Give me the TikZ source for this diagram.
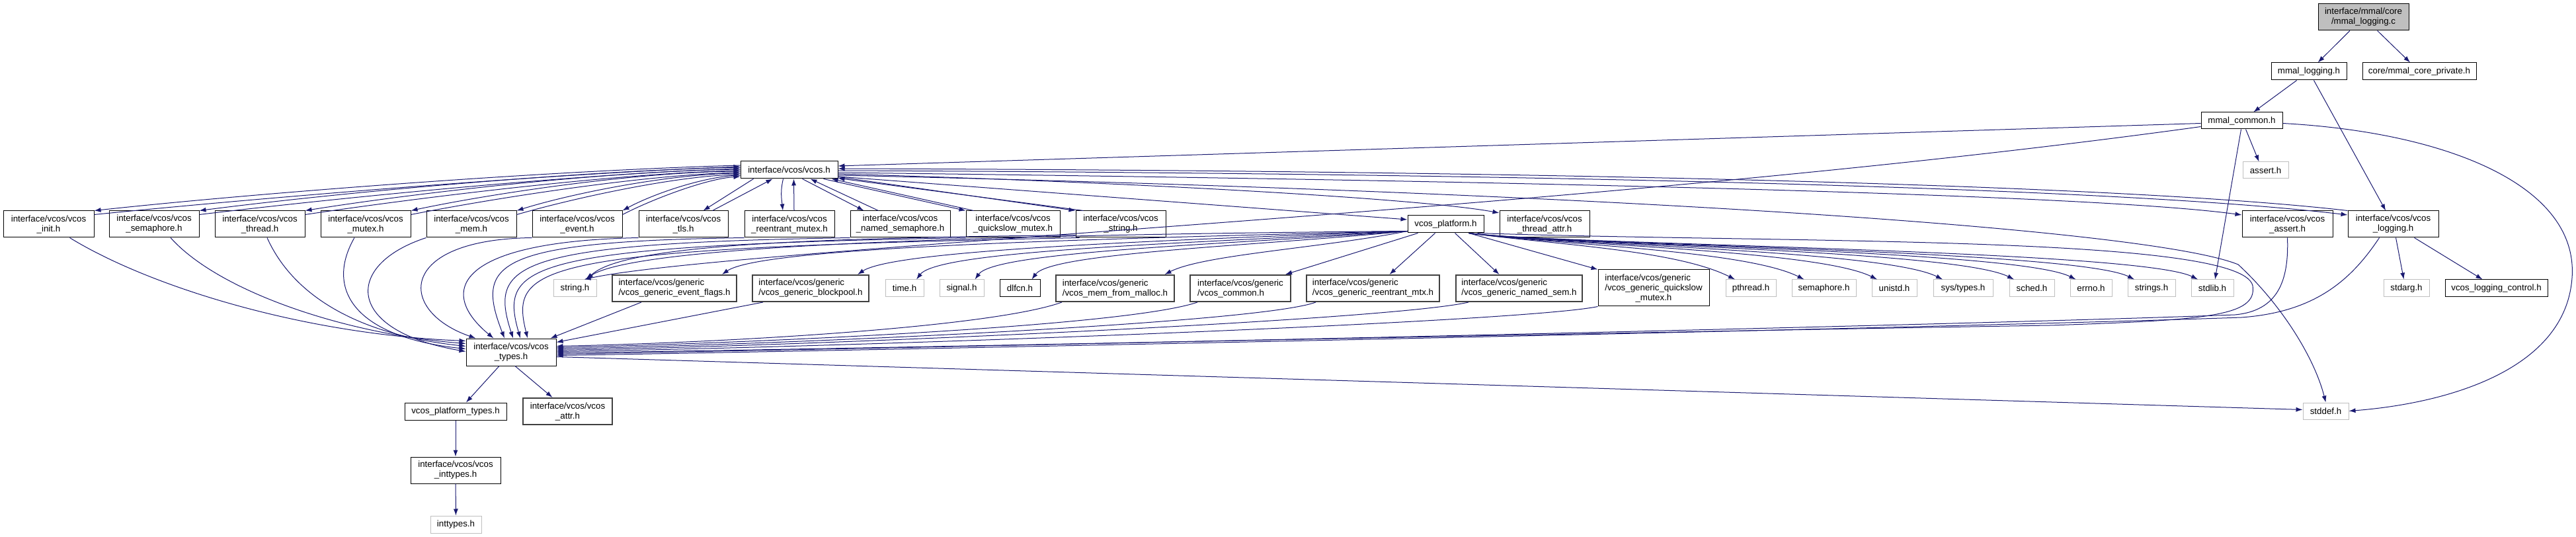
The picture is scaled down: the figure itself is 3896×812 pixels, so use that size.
\documentclass[tikz,border=0pt]{standalone}
\usepackage{fontspec}
\setmainfont{Liberation Sans}
\usetikzlibrary{arrows.meta,calc}
\definecolor{edgecol}{HTML}{191970}
\definecolor{sysgray}{HTML}{BFBFBF}
\definecolor{gengray}{HTML}{404040}
\definecolor{rootfill}{HTML}{BFBFBF}
\newcommand{\fnode}[7]{\node[#1, minimum width={(#4-#3)*0.75pt}, minimum height={(#6-#5)*0.75pt}] (#2) at ({(#3+#4)/2},{(#5+#6)/2}) {#7};}
\begin{document}
\begin{tikzpicture}[x=0.75pt,y=-0.75pt,
 nbox/.style={draw=black, fill=white, line width=0.75pt, inner sep=0pt, align=center, font=\fontsize{10pt}{11.25pt}\selectfont},
 sbox/.style={nbox, draw=sysgray},
 gbox/.style={nbox, draw=gengray, line width=1.5pt, align=left},
 rbox/.style={nbox, fill=rootfill},
 dep/.style={draw=edgecol, line width=0.75pt, -{Latex[length=7.5pt,width=5.25pt]}}]
\useasboundingbox (0,0) rectangle (3896,812);
% ---------- nodes ----------
\fnode{rbox}{mlc}{3506}{3643}{6}{46}{interface/mmal/core\\/mmal\_logging.c}
\fnode{nbox}{mlh}{3435}{3549}{95}{121}{mmal\_logging.h}
\fnode{nbox}{mcp}{3573}{3745}{95}{121}{core/mmal\_core\_private.h}
\fnode{nbox}{mch}{3329}{3452}{170}{195}{mmal\_common.h}
\fnode{sbox}{asrt}{3392}{3461}{245}{270}{assert.h}
\fnode{nbox}{vcos}{1120}{1267}{244}{270}{interface/vcos/vcos.h}
% row 1
\fnode{nbox}{init}{5}{142}{319}{359}{interface/vcos/vcos\\\_init.h}
\fnode{nbox}{sema}{165}{301}{319}{359}{interface/vcos/vcos\\\_semaphore.h}
\fnode{nbox}{thrd}{325}{461}{319}{359}{interface/vcos/vcos\\\_thread.h}
\fnode{nbox}{mutx}{485}{621}{319}{359}{interface/vcos/vcos\\\_mutex.h}
\fnode{nbox}{mem}{645}{781}{319}{359}{interface/vcos/vcos\\\_mem.h}
\fnode{nbox}{evt}{805}{941}{319}{359}{interface/vcos/vcos\\\_event.h}
\fnode{nbox}{tls}{966}{1101}{319}{359}{interface/vcos/vcos\\\_tls.h}
\fnode{nbox}{rmtx}{1126}{1262}{319}{359}{interface/vcos/vcos\\\_reentrant\_mutex.h}
\fnode{nbox}{nsem}{1286}{1437}{319}{359}{interface/vcos/vcos\\\_named\_semaphore.h}
\fnode{nbox}{qsm}{1461}{1603}{319}{359}{interface/vcos/vcos\\\_quickslow\_mutex.h}
\fnode{nbox}{vstr}{1627}{1763}{319}{359}{interface/vcos/vcos\\\_string.h}
\fnode{nbox}{plat}{2129}{2244}{326}{352}{vcos\_platform.h}
\fnode{nbox}{tattr}{2268}{2404}{319}{359}{interface/vcos/vcos\\\_thread\_attr.h}
\fnode{nbox}{vasrt}{3391}{3528}{319}{359}{interface/vcos/vcos\\\_assert.h}
\fnode{nbox}{vlog}{3551}{3688}{319}{359}{interface/vcos/vcos\\\_logging.h}
% row 2
\fnode{sbox}{strh}{837}{902}{423}{449}{string.h}
\fnode{gbox}{gevf}{926}{1114}{416}{456}{interface/vcos/generic\\/vcos\_generic\_event\_flags.h}
\fnode{gbox}{gblk}{1138}{1314}{416}{456}{interface/vcos/generic\\/vcos\_generic\_blockpool.h}
\fnode{sbox}{timeh}{1339}{1397}{423}{449}{time.h}
\fnode{sbox}{sigh}{1421}{1488}{423}{449}{signal.h}
\fnode{nbox}{dlfcn}{1512}{1573}{423}{449}{dlfcn.h}
\fnode{gbox}{gmm}{1597}{1776}{416}{456}{interface/vcos/generic\\/vcos\_mem\_from\_malloc.h}
\fnode{gbox}{gcom}{1800}{1952}{416}{456}{interface/vcos/generic\\/vcos\_common.h}
\fnode{gbox}{grm}{1976}{2177}{416}{456}{interface/vcos/generic\\/vcos\_generic\_reentrant\_mtx.h}
\fnode{gbox}{gns}{2202}{2393}{416}{456}{interface/vcos/generic\\/vcos\_generic\_named\_sem.h}
\fnode{nbox, align=left}{gqs}{2417}{2585}{408}{463}{interface/vcos/generic\\/vcos\_generic\_quickslow\\\hspace*{34.7pt}\_mutex.h}
\fnode{sbox}{pthr}{2610}{2686}{423}{449}{pthread.h}
\fnode{sbox}{semh}{2710}{2807}{423}{449}{semaphore.h}
\fnode{sbox}{unih}{2831}{2899}{423}{449}{unistd.h}
\fnode{sbox}{syst}{2924}{3014}{423}{449}{sys/types.h}
\fnode{sbox}{schd}{3039}{3107}{423}{449}{sched.h}
\fnode{sbox}{errn}{3131}{3194}{423}{449}{errno.h}
\fnode{sbox}{strs}{3218}{3290}{423}{449}{strings.h}
\fnode{sbox}{stdl}{3314}{3378}{423}{449}{stdlib.h}
\fnode{sbox}{stdarg}{3605}{3674}{423}{449}{stdarg.h}
\fnode{nbox}{vlc}{3698}{3853}{423}{449}{vcos\_logging\_control.h}
% lower rows
\fnode{nbox}{types}{705}{841}{512}{553}{interface/vcos/vcos\\\_types.h}
\fnode{nbox}{ptyp}{612}{766}{609}{635}{vcos\_platform\_types.h}
\fnode{gbox, align=center}{attr}{791}{926}{602}{642}{interface/vcos/vcos\\\_attr.h}
\fnode{sbox}{stddef}{3483}{3552}{609}{634}{stddef.h}
\fnode{nbox}{intt}{621}{757}{691}{731}{interface/vcos/vcos\\\_inttypes.h}
\fnode{sbox}{inttypes}{651}{728}{780}{806}{inttypes.h}
% ---------- edges: top ----------
\draw[dep] (mlc) -- (mlh);
\draw[dep] (mlc) -- (mcp);
\draw[dep] (mlh) -- (mch);
\draw[dep] (mlh) -- (vlog);
\draw[dep] ($(mch.west)+(0,4)$) -- ($(vcos.east)+(0,-6)$);
\draw[dep] ($(mch.west)+(0,9)$) .. controls (2400,320) and (1100,375) .. ($(strh.north)+(14,0)$);
\draw[dep] ($(mch.south)+(6,0)$) -- ($(asrt.north)+(-10,0)$);
\draw[dep] ($(mch.south)+(-1,0)$) -- ($(stdl.north)+(4,0)$);
\draw[dep] ($(mch.east)+(0,4)$) .. controls (3700,200) and (3900,280) .. (3890,420) .. controls (3880,560) and (3700,610) .. (stddef.east);
% ---------- vcos <-> row 1 (left arcs) ----------
\draw[dep] ($(vcos.west)+(0,-7)$) .. controls (827,258) and (387,292) .. (init.north east);
\draw[dep] ($(init.north east)+(0,6)$) .. controls (406,298) and (846,262) .. ($(vcos.west)+(0,-5)$);
\draw[dep] ($(vcos.west)+(0,-4)$) .. controls (874,258) and (506,292) .. (sema.north east);
\draw[dep] ($(sema.north east)+(0,6)$) .. controls (522,298) and (891,262) .. ($(vcos.west)+(0,-2)$);
\draw[dep] ($(vcos.west)+(0,-1)$) .. controls (922,258) and (626,292) .. (thrd.north east);
\draw[dep] ($(thrd.north east)+(0,6)$) .. controls (639,298) and (935,262) .. ($(vcos.west)+(0,1)$);
\draw[dep] ($(vcos.west)+(0,2)$) .. controls (970,259) and (746,292) .. (mutx.north east);
\draw[dep] ($(mutx.north east)+(0,6)$) .. controls (756,298) and (980,264) .. ($(vcos.west)+(0,4)$);
\draw[dep] ($(vcos.west)+(0,5)$) .. controls (1018,262) and (866,292) .. (mem.north east);
\draw[dep] ($(mem.north east)+(0,6)$) .. controls (873,298) and (1025,266) .. ($(vcos.west)+(0,7)$);
\draw[dep] ($(vcos.west)+(0,8)$) .. controls (1066,266) and (986,294) .. (evt.north east);
\draw[dep] ($(evt.north east)+(0,6)$) .. controls (989,300) and (1070,270) .. ($(vcos.west)+(0,10)$);
% ---------- vcos <-> row 1 (below) ----------
\draw[dep] ($(vcos.south west)+(20,0)$) -- ($(tls.north)+(30,0)$);
\draw[dep] ($(tls.north)+(44,0)$) -- ($(vcos.south west)+(49,0)$);
\draw[dep] ($(vcos.south west)+(65,0)$) .. controls (1180,290) and (1182,300) .. ($(rmtx.north)+(-10,0)$);
\draw[dep] ($(rmtx.north)+(7,0)$) -- ($(vcos.south west)+(81,0)$);
\draw[dep] ($(vcos.south west)+(94,0)$) -- ($(nsem.north)+(-55,0)$);
\draw[dep] ($(nsem.north)+(-33,0)$) -- ($(vcos.south west)+(106,0)$);
\draw[dep] ($(vcos.south east)+(-22,0)$) -- (qsm.north west);
\draw[dep] ($(qsm.north west)+(12,0)$) -- ($(vcos.south east)+(-10,0)$);
\draw[dep] ($(vcos.south east)+(0,-3)$) -- (vstr.north west);
\draw[dep] ($(vstr.north west)+(12,0)$) -- ($(vcos.south east)+(0,-1)$);
% ---------- vcos -> right ----------
\draw[dep] ($(vlog.north west)$) .. controls (3200,278) and (2300,258) .. ($(vcos.east)+(0,-2)$);
\draw[dep] ($(vcos.east)+(0,1)$) .. controls (2300,262) and (3200,283) .. ($(vlog.west)+(0,-14)$);
\draw[dep] ($(vcos.east)+(0,4)$) .. controls (2200,272) and (3150,292) .. ($(vasrt.west)+(0,-14)$);
\draw[dep] ($(vcos.east)+(0,6)$) .. controls (1700,275) and (2150,300) .. ($(tattr.west)+(0,-17)$);
\draw[dep] ($(vcos.east)+(0,8)$) .. controls (2400,290) and (3250,345) .. (3385,400) .. controls (3450,460) and (3500,540) .. (stddef.north);
\draw[dep] ($(vcos.east)+(0,10)$) -- ($(plat.west)+(0,-7)$);
% ---------- row 1 -> types ----------
\draw[dep] ($(init.south)+(32,0)$) .. controls (220,430) and (450,505) .. ($(types.west)+(0,-17)$);
\draw[dep] ($(sema.south)+(25,0)$) .. controls (330,440) and (520,505) .. ($(types.west)+(0,-13)$);
\draw[dep] ($(thrd.south)+(11,0)$) .. controls (440,440) and (530,505) .. ($(types.west)+(0,-9)$);
\draw[dep] ($(mutx.south)+(-17,0)$) .. controls (490,440) and (540,510) .. ($(types.west)+(0,-5)$);
\draw[dep] (mem.south west) .. controls (520,400) and (520,500) .. ($(types.west)+(0,-1)$);
\draw[dep] (evt.south west) .. controls (600,362) and (600,470) .. ($(types.north west)+(15,0)$);
\draw[dep] (tls.south west) .. controls (690,365) and (660,440) .. ($(types.north west)+(42,0)$);
\draw[dep] (rmtx.south west) .. controls (740,365) and (720,400) .. ($(types.north)+(-10,0)$);
\draw[dep] (nsem.south west) .. controls (770,368) and (740,400) .. ($(types.north)+(3,0)$);
\draw[dep] (qsm.south west) .. controls (790,372) and (755,400) .. ($(types.north)+(14,0)$);
\draw[dep] ($(vstr.south west)+(6,0)$) .. controls (810,376) and (770,400) .. ($(types.north)+(25,0)$);
\draw[dep] ($(vstr.south west)+(0,-4)$) .. controls (1200,360) and (940,372) .. ($(strh.north)+(18,0)$);
% ---------- row 2 -> types ----------
\draw[dep] ($(gevf.south)+(-50,0)$) -- ($(types.north east)+(-9,0)$);
\draw[dep] ($(gblk.south west)+(17,0)$) -- ($(types.east)+(0,-15)$);
\draw[dep] ($(gmm.south west)+(10,0)$) .. controls (1500,495) and (1100,518) .. ($(types.east)+(0,-9)$);
\draw[dep] ($(gcom.south west)+(12,0)$) .. controls (1700,495) and (1100,520) .. ($(types.east)+(0,-7)$);
\draw[dep] ($(grm.south west)+(15,0)$) .. controls (1900,490) and (1150,522) .. ($(types.east)+(0,-5)$);
\draw[dep] ($(gns.south west)+(20,0)$) .. controls (2100,485) and (1200,524) .. ($(types.east)+(0,-3)$);
\draw[dep] (gqs.south west) .. controls (2300,488) and (1250,526) .. ($(types.east)+(0,-1)$);
\draw[dep] ($(plat.south east)+(-10,0)$) .. controls (2700,368) and (3390,355) .. (3407,432) .. controls (3414,478) and (3340,484) .. (3100,492) .. controls (2300,505) and (1300,528) .. ($(types.east)+(0,1)$);
\draw[dep] (vasrt.south) .. controls (3462,425) and (3445,470) .. (3380,476) .. controls (2900,494) and (1300,528) .. ($(types.east)+(0,3)$);
\draw[dep] ($(vlog.south)+(-21,0)$) .. controls (3555,425) and (3500,472) .. (3390,480) .. controls (2900,497) and (1300,530) .. ($(types.east)+(0,5)$);
% ---------- lower ----------
\draw[dep] ($(types.east)+(0,7)$) -- ($(stddef.west)+(0,-2)$);
\draw[dep] ($(types.south)+(-18,0)$) -- ($(ptyp.north)+(16,0)$);
\draw[dep] ($(types.south)+(6,0)$) -- ($(attr.north)+(-23,0)$);
\draw[dep] (ptyp) -- (intt);
\draw[dep] (intt) -- (inttypes);
\draw[dep] ($(vlog.south)+(4,0)$) -- ($(stdarg.north)+(-4,0)$);
\draw[dep] ($(vlog.south)+(32,0)$) -- ($(vlc.north)+(-21,0)$);
% ---------- vcos_platform -> left ----------
\draw[dep] ($(plat.south west)+(0,-3)$) .. controls (1500,355) and (960,370) .. ($(strh.north)+(16,0)$);
\draw[dep] ($(plat.south west)+(0,-3)$) .. controls (1600,362) and (1150,375) .. ($(gevf.north)+(72,0)$);
\draw[dep] ($(plat.south west)+(0,-3)$) .. controls (1700,365) and (1350,380) .. ($(gblk.north)+(71,0)$);
\draw[dep] ($(plat.south west)+(0,-3)$) .. controls (1800,368) and (1420,378) .. ($(timeh.north)+(18,0)$);
\draw[dep] ($(plat.south west)+(0,-3)$) .. controls (1850,370) and (1505,380) .. ($(sigh.north)+(20,0)$);
\draw[dep] ($(plat.south west)+(0,-3)$) .. controls (1900,372) and (1590,382) .. ($(dlfcn.north)+(18,0)$);
\draw[dep] ($(plat.south west)+(0,-3)$) .. controls (2000,375) and (1820,385) .. ($(gmm.north)+(75,0)$);
\draw[dep] ($(plat.south west)+(16,0)$) -- ($(gcom.north)+(68,0)$);
\draw[dep] ($(plat.south)+(-16,0)$) -- ($(grm.north)+(25,0)$);
\draw[dep] ($(plat.south)+(14,0)$) -- ($(gns.north)+(-30,0)$);
\draw[dep] ($(plat.south)+(35,0)$) -- (gqs.north west);
% ---------- vcos_platform -> right ----------
\foreach \t/\dx in {pthr/-24, semh/-30, unih/-26, syst/-31, schd/-27, errn/-23, strs/-26, stdl/-22}
  \draw[dep] ($(plat.south east)+(-23,0)$) .. controls (2350,370) and ($(\t.north)+(\dx-90,-45)$) .. ($(\t.north)+(\dx,0)$);
\end{tikzpicture}
\end{document}
